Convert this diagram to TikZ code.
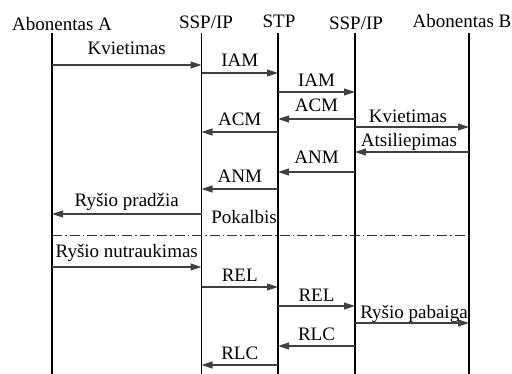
\documentclass[tikz,border=0pt]{standalone}
\usepackage{fontspec}
\setmainfont{Liberation Serif}
\usetikzlibrary{arrows.meta}
\tikzset{
  life/.style={line width=1.5pt, black},
  msg/.style={line width=1.1pt, black!75, -{Triangle[length=11pt,width=7pt]}},
  lbl/.style={anchor=base, inner sep=0pt, yshift=6pt, text=black},
  hdr/.style={anchor=base, inner sep=0pt},
  sep/.style={line width=0.8pt, black!80, dash pattern=on 10pt off 3pt on 1.5pt off 3pt},
}
\begin{document}
\begin{tikzpicture}[x=1pt,y=-1pt,font=\fontsize{19}{21}\selectfont]
\useasboundingbox (0,0) rectangle (512,374);
% headers
\node[hdr] (hA)  at (62,31)  {Abonentas A};
\node[hdr] (hS1) at (206,29) {SSP/IP};
\node[hdr] (hT)  at (279,28) {STP};
\node[hdr] (hS2) at (356,30) {SSP/IP};
\node[hdr] (hB)  at (462,28) {Abonentas B};
% lifelines
\coordinate (A)  at (52,33);   \coordinate (Ab)  at (52,374);
\coordinate (S1) at (201.5,33);\coordinate (S1b) at (201.5,374);
\coordinate (T)  at (278,33);  \coordinate (Tb)  at (278,374);
\coordinate (S2) at (355,33);  \coordinate (S2b) at (355,374);
\coordinate (B)  at (469,33);  \coordinate (Bb)  at (469,374);
\draw[life] (A) -- (Ab);
\draw[life] (S1) -- (S1b);
\draw[life] (T) -- (Tb);
\draw[life] (S2) -- (S2b);
\draw[life] (B) -- (Bb);
% messages
\draw[msg] (A |- 0,65) -- node[lbl, yshift=4pt] {Kvietimas} (S1 |- 0,65);
\draw[msg] (S1 |- 0,73) -- node[lbl] {IAM} (T |- 0,73);
\draw[msg] (T |- 0,92) -- node[lbl, yshift=-1pt] {IAM} (S2 |- 0,92);
\draw[msg] (S2 |- 0,119) -- node[lbl, yshift=1pt] {ACM} (T |- 0,119);
\draw[msg] (S2 |- 0,127) -- node[lbl, yshift=-2pt, xshift=-4pt] {Kvietimas} (B |- 0,127);
\draw[msg] (T |- 0,132) -- node[lbl] {ACM} (S1 |- 0,132);
\draw[msg] (B |- 0,152) -- node[lbl, yshift=-1pt, xshift=-3pt] {Atsiliepimas} (S2 |- 0,152);
\draw[msg] (S2 |- 0,172) -- node[lbl, yshift=2pt] {ANM} (T |- 0,172);
\draw[msg] (T |- 0,189) -- node[lbl] {ANM} (S1 |- 0,189);
\draw[msg] (S1 |- 0,214) -- node[lbl, yshift=1pt] {Ryšio pradžia} (A |- 0,214);
\node[hdr] (pok) at (244,223.5) {Pokalbis};
% separator
\coordinate (sepL) at (52,235);
\coordinate (sepR) at (469,235);
\draw[sep] (sepL) -- (sepR);
% release
\draw[msg] (A |- 0,267) -- node[lbl, yshift=3pt] {Ryšio nutraukimas} (S1 |- 0,267);
\draw[msg] (S1 |- 0,287) -- node[lbl, yshift=-1pt] {REL} (T |- 0,287);
\draw[msg] (T |- 0,306) -- node[lbl, yshift=-1.5pt] {REL} (S2 |- 0,306);
\draw[msg] (S2 |- 0,323) -- node[lbl, yshift=-2pt, xshift=2pt] {Ryšio pabaiga} (B |- 0,323);
\draw[msg] (S2 |- 0,346) -- node[lbl, yshift=-1pt] {RLC} (T |- 0,346);
\draw[msg] (T |- 0,365) -- node[lbl, yshift=-1pt] {RLC} (S1 |- 0,365);
\end{tikzpicture}
\end{document}
